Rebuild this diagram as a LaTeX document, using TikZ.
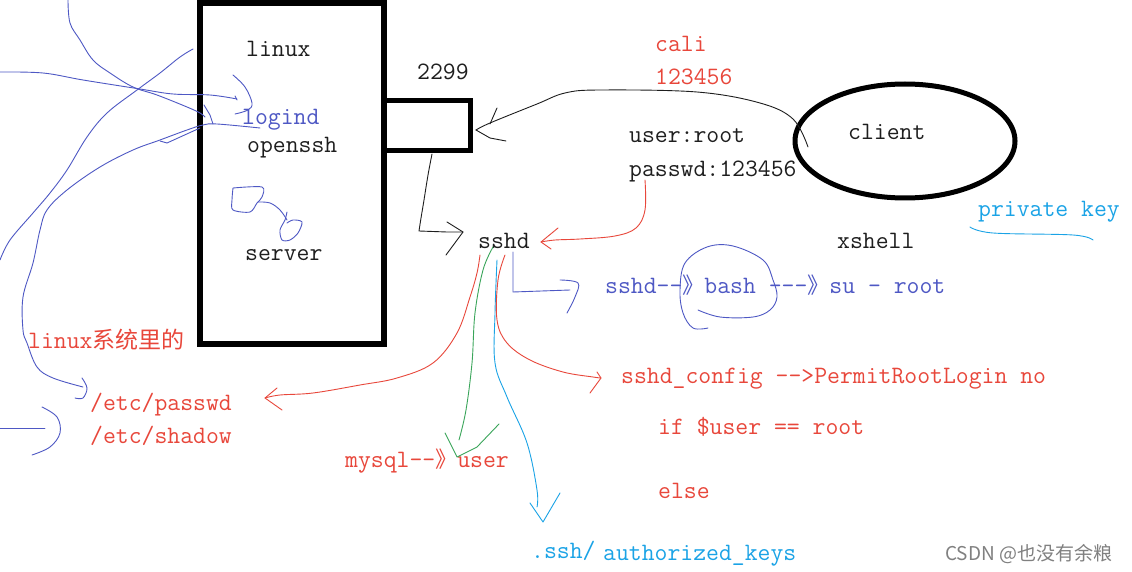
\documentclass[tikz,border=0pt]{standalone}
\usepackage{fontspec}
\newfontfamily\cjk{Noto Sans CJK SC}
\usetikzlibrary{shapes.geometric}
\newcommand\dbl{{\cjk\fontsize{22}{24}\selectfont 》}}

\definecolor{ink}{HTML}{1E1E1E}
\definecolor{penred}{HTML}{E8473B}
\definecolor{penblue}{HTML}{4E58C4}
\definecolor{pencyan}{HTML}{1AA3E6}
\definecolor{pengreen}{HTML}{3AA55A}

\tikzset{
  lbl/.style={font=\fontsize{25}{27}\selectfont\ttfamily, inner sep=0pt, anchor=base west, text=ink},
  redlbl/.style={lbl, text=penred},
  bluelbl/.style={lbl, text=penblue},
  cyanlbl/.style={lbl, text=pencyan},
  pen/.style={line width=0.9pt, line cap=round, line join=round},
  blackpen/.style={pen, ink},
  redpen/.style={pen, penred},
  bluepen/.style={pen, penblue},
  cyanpen/.style={pen, pencyan},
  greenpen/.style={pen, pengreen},
  heavy/.style={draw=black, line width=6pt, inner sep=0pt}
}

\begin{document}
\begin{tikzpicture}[x=1pt,y=-1pt]
\useasboundingbox [fill=white] (0,0) rectangle (1132,572);

\node [heavy, minimum width=184pt, minimum height=341pt] (server box) at (292,173.5) {};
\node [heavy, line width=5pt, minimum width=86pt, minimum height=50pt] (port) at (427,126) {};
\node [heavy, line width=5pt, ellipse, minimum width=220pt, minimum height=114pt] (client) at (905,141) {};

\node [lbl] (linux) at (246,57) {linux};
\node [bluelbl] (logind) at (242,125) {logind};
\node [lbl] (openssh) at (247,153) {openssh};
\node [lbl] (server) at (245,260) {server};
\node [lbl] (portno) at (417,80) {2299};
\node [redlbl] (cali) at (655,52) {cali};
\node [redlbl] (calipw) at (655,85) {123456};
\node [lbl] (user) at (629,143) {user:root};
\node [lbl] (passwd) at (629,177) {passwd:123456};
\node [lbl] (clienttxt) at (848,140) {client};
\node [cyanlbl] (privkey) at (978,217) {private key};
\node [lbl] (xshell) at (837,248) {xshell};
\node [lbl] (sshd) at (478,248) {sshd};
\node [bluelbl] (chain) at (605,293) {sshd--\dbl bash ---\dbl su - root};
\node [redlbl] (sysnote) at (28,348) {linux{\cjk\fontsize{23}{24}\selectfont 系统里的}};
\node [redlbl] (etcpw) at (90,410) {/etc/passwd};
\node [redlbl] (etcsh) at (90,443) {/etc/shadow};
\node [redlbl] (mysql) at (345,467) {mysql--\dbl user};
\node [redlbl] (config) at (621,383) {sshd\_config -{}->PermitRootLogin no};
\node [redlbl] (ifroot) at (658,434) {if \$user == root};
\node [redlbl] (else) at (658,498) {else};
\node [cyanlbl] (sshdir) at (531,558) {.ssh/};
\node [cyanlbl] (authkeys) at (603,560) {authorized\_keys};
\node [inner sep=0pt, anchor=base west, text=black!50, font=\cjk\fontsize{19}{22}\selectfont] (mark) at (945,560) {CSDN @也没有余粮};

\coordinate (c1) at (808,147);
\coordinate (p1) at (476,130);
\draw [blackpen] plot [smooth, tension=0.6] coordinates {(c1) (793,119) (760,103) (697,92) (600,90) (565,93) (537,104) (490,123) (p1)};
\draw [blackpen] (497,108) -- (490,124);
\draw [blackpen] (p1) -- (490,138) -- (506,141);

\coordinate (p2) at (432,154);
\coordinate (s1) at (463,232);
\draw [blackpen] plot [smooth, tension=0.5] coordinates {(p2) (428,175) (424,200) (421,218) (419,231)} -- (447,232) -- (s1);
\draw [blackpen] (447,222) -- (s1) -- (446,255);

\coordinate (pw1) at (645,180);
\coordinate (s2) at (541,242);
\draw [redpen] plot [smooth, tension=0.6] coordinates {(pw1) (645,210) (636,228) (615,236) (580,239) (555,240) (s2)};
\draw [redpen] (558,228) -- (s2) -- (551,249);

\coordinate (s3) at (513,252);
\draw [bluepen] (s3) -- (513,292) -- (570,290);
\draw [bluepen] plot [smooth, tension=0.6] coordinates {(560,280) (578,283) (575,297) (567,313)};
\draw [bluepen] plot [smooth, tension=0.6] coordinates {(708,328) (693,328) (683,313) (680,290) (685,263) (707,247) (733,246) (763,260) (773,280) (777,297) (770,310) (753,317) (720,317) (698,310)};

\coordinate (s4) at (480,255);
\coordinate (e1) at (265,398);
\draw [redpen] plot [smooth, tension=0.6] coordinates {(s4) (477,273) (470,297) (457,333) (433,363) (397,378) (360,385) (313,393) (280,395) (e1)};
\draw [redpen] (277,388) -- (e1) -- (282,410);

\coordinate (s5) at (493,247);
\coordinate (u1) at (459,440);
\draw [greenpen] plot [smooth, tension=0.6] coordinates {(s5) (483,270) (475,313) (472,363) (466,410) (u1)};
\draw [greenpen] (445,433) -- (457,457) -- (477,447) -- (499,424);

\coordinate (s6) at (497,260);
\coordinate (k1) at (537,507);
\draw [cyanpen] plot [smooth, tension=0.6] coordinates {(s6) (495,313) (495,363) (507,397) (527,443) (537,490) (k1)};
\draw [cyanpen] (530,503) -- (543,522) -- (560,493);

\coordinate (s7) at (505,255);
\coordinate (cf1) at (601,378);
\draw [redpen] plot [smooth, tension=0.6] coordinates {(s7) (498,280) (497,320) (507,343) (530,360) (563,372) (593,377) (cf1)};
\draw [redpen] (597,372) -- (cf1) -- (590,393);

\draw [bluepen] plot [smooth, tension=0.6] coordinates {(68,0) (70,23) (80,40) (93,60) (110,73) (133,87) (157,95) (187,107) (200,113) (205,117)};
\draw [bluepen] (204,105) -- (210,115) -- (213,124);
\draw [bluepen] plot [smooth, tension=0.6] coordinates {(0,72) (43,73) (83,80) (140,89) (173,94) (210,95) (237,99)};
\draw [bluepen] (235,96) -- (237,100);
\draw [bluepen] plot [smooth, tension=0.6] coordinates {(233,75) (245,87) (252,103) (248,110) (235,114)};
\draw [bluepen] plot [smooth, tension=0.6] coordinates {(0,260) (10,240) (33,213) (50,193) (67,170) (87,137) (107,113) (137,90) (160,73) (180,57) (193,49)};
\draw [bluepen] plot [smooth, tension=0.6] coordinates {(260,128) (217,124) (203,125) (187,130) (160,140) (133,150) (100,167) (67,190) (47,210) (40,230) (33,263) (23,297) (23,330) (27,343) (37,367) (53,378) (83,387)};
\draw [bluepen] (160,141) -- (167,143) -- (200,128);
\draw [bluepen] plot [smooth, tension=0.6] coordinates {(82,378) (87,388) (83,398) (75,398)};
\draw [bluepen] (0,428) -- (45,428);
\draw [bluepen] plot [smooth, tension=0.6] coordinates {(42,407) (57,417) (60,433) (50,447) (32,455)};

\draw [bluepen] plot [smooth, tension=0.5] coordinates {(233,188) (262,187) (262,197) (257,203) (250,212) (233,210) (232,200) (233,188)};
\draw [bluepen] plot [smooth, tension=0.6] coordinates {(258,202) (270,203) (280,210) (287,220)};
\draw [bluepen] plot [smooth, tension=0.5] coordinates {(287,212) (285,220) (280,230) (282,240) (290,240) (298,233) (302,222) (293,220) (287,223)};

\draw [cyanpen] plot [smooth, tension=0.6] coordinates {(970,227) (993,233) (1073,235) (1093,240)};
\end{tikzpicture}
\end{document}
